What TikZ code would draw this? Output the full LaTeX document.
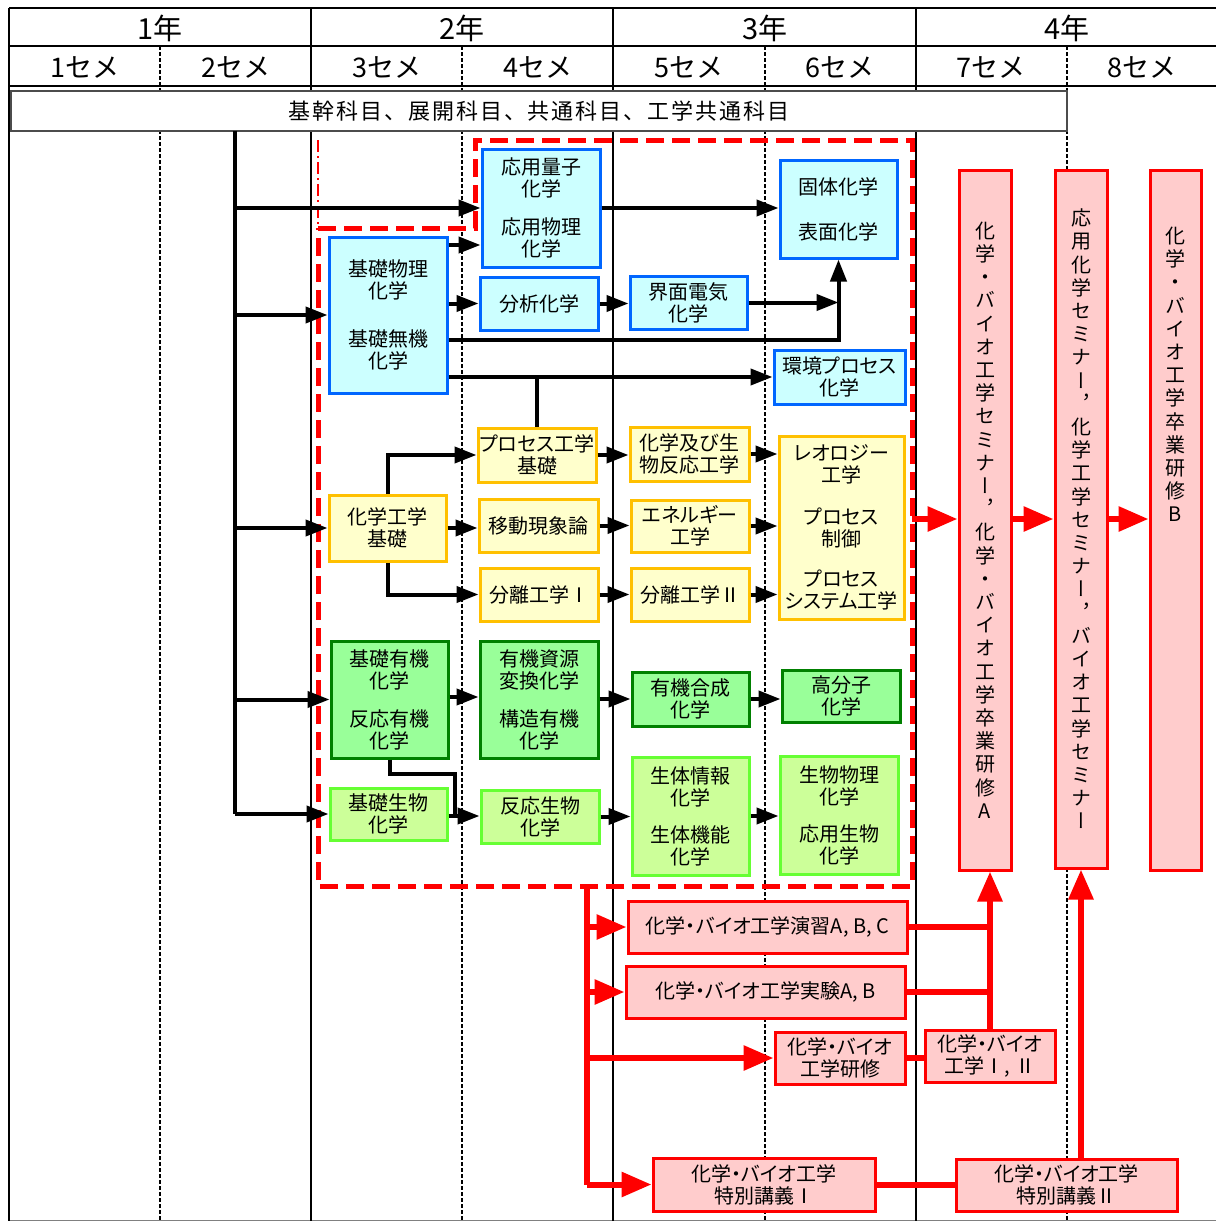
\documentclass[tikz,border=0pt]{standalone}
\usepackage{fontspec}
\setmainfont{Noto Sans CJK JP}[RawFeature=+palt]
\newfontfamily\vfont{Noto Sans CJK JP}[RawFeature=+vert]
\newfontfamily\widefont{Noto Sans CJK JP}[LetterSpace=9]
\newfontfamily\headfont{Noto Sans CJK JP}
\usetikzlibrary{arrows.meta}
\usetikzlibrary{positioning}

\definecolor{blueline}{HTML}{0066FF}
\definecolor{bluefill}{HTML}{CCFFFF}
\definecolor{yellowline}{HTML}{FFC000}
\definecolor{yellowfill}{HTML}{FFFFCC}
\definecolor{greenline}{HTML}{008000}
\definecolor{greenfill}{HTML}{99FF99}
\definecolor{lgreenline}{HTML}{66FF33}
\definecolor{lgreenfill}{HTML}{CCFF99}
\definecolor{pinkfill}{HTML}{FFCCCC}

\tikzset{
  box/.style={draw, line width=1.5pt, align=center, inner sep=0pt, font=\fontsize{10}{11}\selectfont},
  bluebox/.style={box, draw=blueline, fill=bluefill},
  yellowbox/.style={box, draw=yellowline, fill=yellowfill},
  greenbox/.style={box, draw=greenline, fill=greenfill},
  lgreenbox/.style={box, draw=lgreenline, fill=lgreenfill},
  pinkbox/.style={box, draw=red, fill=pinkfill},
  vbox/.style={pinkbox, font=\vfont\fontsize{10}{11.6}\selectfont},
  yearlabel/.style={font=\headfont\fontsize{14.5}{16}\selectfont},
  semlabel/.style={font=\headfont\fontsize{13.5}{15}\selectfont},
  arr/.style={line width=2pt, -{Triangle[length=11pt,width=8pt]}},
  link/.style={line width=2pt},
  redarr/.style={draw=red, line width=3pt, -{Triangle[length=15pt,width=12pt]}},
  redlink/.style={draw=red, line width=3pt},
}

\begin{document}
\begin{tikzpicture}[x=0.5pt,y=-0.5pt]
\useasboundingbox (0,0) rectangle (1216,1221);

% grid
\draw[line width=1pt] (9,8) -- (1216,8);
\draw[line width=1.2pt] (9,46) -- (1216,46);
\draw[line width=1.2pt] (9,86) -- (1216,86);
\draw[gray, line width=0.5pt] (9,1220) -- (1216,1220);
\draw[line width=1pt] (9,8) -- (9,1221);
\draw[line width=1pt] (311,8) -- (311,1221);
\draw[line width=1pt] (613,8) -- (613,1221);
\draw[line width=1pt] (916,8) -- (916,1221);
\draw[line width=0.6pt, dash pattern=on 2pt off 1pt] (160,46) -- (160,1221);
\draw[line width=0.6pt, dash pattern=on 2pt off 1pt] (462,46) -- (462,1221);
\draw[line width=0.6pt, dash pattern=on 2pt off 1pt] (765,46) -- (765,1221);
\draw[line width=0.6pt, dash pattern=on 2pt off 1pt] (1067,46) -- (1067,1221);

\path (160,28) node[yearlabel] (y1) {1年};
\path (462,28) node[yearlabel] (y2) {2年};
\path (765,28) node[yearlabel] (y3) {3年};
\path (1067,28) node[yearlabel] (y4) {4年};
\path (85,67) node[semlabel] (s1) {1セメ};
\path (236,67) node[semlabel] (s2) {2セメ};
\path (387,67) node[semlabel] (s3) {3セメ};
\path (538,67) node[semlabel] (s4) {4セメ};
\path (689,67) node[semlabel] (s5) {5セメ};
\path (840,67) node[semlabel] (s6) {6セメ};
\path (991,67) node[semlabel] (s7) {7セメ};
\path (1142,67) node[semlabel] (s8) {8セメ};

\path (539,111) node[draw=black!70, line width=0.6pt, fill=white, minimum width=528pt, minimum height=20pt, inner sep=0pt,
  font=\widefont\fontsize{11}{13}\selectfont] (kikan) {基幹科目、展開科目、共通科目、工学共通科目};

% red dashed region
\draw[red, line width=0.6pt, dash pattern=on 6pt off 2pt on 1pt off 2pt] (318,140) -- (318,228);
\draw[red, line width=2.5pt, dash pattern=on 9pt off 4pt] (318,228) -- (475,228) -- (475,140) -- (912,140) -- (912,886) -- (318,886) -- cycle;
\coordinate (regionE) at (912,519);
\coordinate (rtop) at (587,886);
\coordinate (trunk) at (235,131);

% blue
\path (541,208) node[bluebox, minimum width=59pt, minimum height=59pt] (oyoryoshi) {応用量子\\化学\\[8pt]応用物理\\化学};
\path (838.5,209) node[bluebox, minimum width=58.5pt, minimum height=49pt] (kotai) {固体化学\\[11.5pt]表面化学};
\path (388,315) node[bluebox, minimum width=59pt, minimum height=78pt] (kisobutsuri) {基礎物理\\化学\\[13pt]基礎無機\\化学};
\path (539,303.5) node[bluebox, minimum width=59pt, minimum height=26.5pt] (bunseki) {分析化学};
\path (688.5,302.5) node[bluebox, minimum width=58.5pt, minimum height=26.5pt] (kaimen) {界面電気\\化学};
\path (839.5,377) node[bluebox, minimum width=65.5pt, minimum height=27pt] (kankyo) {環境プロセス\\化学};

% yellow
\path (537,455) node[yellowbox, minimum width=59pt, minimum height=27pt] (procbase) {プロセス工学\\基礎};
\path (689.5,454) node[yellowbox, minimum width=59.5pt, minimum height=27pt] (hanno) {化学及び生\\物反応工学};
\path (841.5,527.5) node[yellowbox, minimum width=62.5pt, minimum height=91.5pt] (rheo) {レオロジー\\工学\\[10pt]プロセス\\制御\\[9pt]プロセス\\システム工学};
\path (387.5,528) node[yellowbox, minimum width=58.5pt, minimum height=33pt] (kagakukogaku) {化学工学\\基礎};
\path (538.5,525.5) node[yellowbox, minimum width=59.5pt, minimum height=26.5pt] (ido) {移動現象論};
\path (690,526) node[yellowbox, minimum width=59pt, minimum height=26pt] (energy) {エネルギー\\工学};
\path (539,594.5) node[yellowbox, minimum width=59pt, minimum height=26.5pt] (bunri1) {分離工学Ⅰ};
\path (690,594.5) node[yellowbox, minimum width=59pt, minimum height=26.5pt] (bunri2) {分離工学Ⅱ};

% green
\path (389.5,699.5) node[greenbox, minimum width=58.5pt, minimum height=58.5pt] (kisoyuki) {基礎有機\\化学\\[8pt]反応有機\\化学};
\path (539,699.5) node[greenbox, minimum width=59pt, minimum height=58.5pt] (yukishigen) {有機資源\\変換化学\\[8pt]構造有機\\化学};
\path (690.5,699) node[greenbox, minimum width=58.5pt, minimum height=27pt] (yukigosei) {有機合成\\化学};
\path (841,696) node[greenbox, minimum width=59pt, minimum height=26pt] (kobunshi) {高分子\\化学};
\path (388.5,814) node[lgreenbox, minimum width=58.5pt, minimum height=26pt] (kisoseibutsu) {基礎生物\\化学};
\path (540,816.5) node[lgreenbox, minimum width=59pt, minimum height=26.5pt] (hannoseibutsu) {反応生物\\化学};
\path (690.5,816) node[lgreenbox, minimum width=58.5pt, minimum height=59pt] (seitai) {生体情報\\化学\\[7.5pt]生体機能\\化学};
\path (839,815) node[lgreenbox, minimum width=59pt, minimum height=59pt] (seibutsubutsuri) {生物物理\\化学\\[7.5pt]応用生物\\化学};

% pink, 4th year
\path (985,520) node[vbox, minimum width=26pt, minimum height=350pt] (semiA) {化\\学\\・\\バ\\イ\\オ\\工\\学\\セ\\ミ\\ナ\\ー\\，\\化\\学\\・\\バ\\イ\\オ\\工\\学\\卒\\業\\研\\修\\A};
\path (1081,519) node[vbox, minimum width=26pt, minimum height=349pt] (semi2) {応\\用\\化\\学\\セ\\ミ\\ナ\\ー\\，\\化\\学\\工\\学\\セ\\ミ\\ナ\\ー\\，\\バ\\イ\\オ\\工\\学\\セ\\ミ\\ナ\\ー};
\path (1175.5,520) node[vbox, minimum width=25.5pt, minimum height=350pt] (sotsuB) {化\\学\\・\\バ\\イ\\オ\\工\\学\\卒\\業\\研\\修\\B\\[134pt]\mbox{}};

% pink, practice
\path (767.5,927) node[pinkbox, minimum width=139.5pt, minimum height=26pt] (ensyu) {化学・バイオ工学演習A, B, C};
\path (765.5,992) node[pinkbox, minimum width=139.5pt, minimum height=26pt] (jikken) {化学・バイオ工学実験A, B};
\path (840,1058) node[pinkbox, minimum width=65pt, minimum height=26pt] (kensyu) {化学・バイオ\\工学研修};
\path (990,1056) node[pinkbox, minimum width=65pt, minimum height=26pt] (bio12) {化学・バイオ\\工学Ⅰ, Ⅱ};
\path (764,1184.5) node[pinkbox, minimum width=111pt, minimum height=26.5pt] (tokubetsu1) {化学・バイオ工学\\特別講義Ⅰ};
\path (1066.5,1185) node[pinkbox, minimum width=110.5pt, minimum height=26pt] (tokubetsu2) {化学・バイオ工学\\特別講義Ⅱ};

% black arrows
\draw[link] (trunk) -- (trunk |- kisoseibutsu.west);
\draw[arr] (trunk |- oyoryoshi.west) -- (oyoryoshi.west);
\draw[arr] (trunk |- kisobutsuri.west) -- (kisobutsuri.west);
\draw[arr] (trunk |- kagakukogaku.west) -- (kagakukogaku.west);
\draw[arr] (trunk |- kisoyuki.west) -- (kisoyuki.west);
\draw[arr] (trunk |- kisoseibutsu.west) -- (kisoseibutsu.west);

\draw[arr] (oyoryoshi.east) -- (kotai.west |- oyoryoshi.east);
\draw[arr] (kisobutsuri.east |- 0,245) -- (oyoryoshi.west |- 0,245);
\draw[arr] (kisobutsuri.east |- bunseki.west) -- (bunseki.west);
\draw[arr] (bunseki.east) -- (kaimen.west |- bunseki.east);
\draw[arr] (kaimen.east) -- (kotai.south |- kaimen.east);
\draw[arr] (kisobutsuri.east |- 0,340) -| (kotai.south);
\draw[arr] (kisobutsuri.east |- kankyo.west) -- (kankyo.west);
\draw[link] (procbase.north |- kankyo.west) -- (procbase.north);

\draw[arr] (kagakukogaku.north) |- (procbase.west);
\draw[arr] (kagakukogaku.east) -- (ido.west |- kagakukogaku.east);
\draw[arr] (kagakukogaku.south) |- (bunri1.west);
\draw[arr] (procbase.east) -- (hanno.west |- procbase.east);
\draw[arr] (ido.east) -- (energy.west |- ido.east);
\draw[arr] (bunri1.east) -- (bunri2.west);
\draw[arr] (hanno.east) -- (rheo.west |- hanno.east);
\draw[arr] (energy.east) -- (rheo.west |- energy.east);
\draw[arr] (bunri2.east) -- (rheo.west |- bunri2.east);

\draw[arr] (kisoyuki.east |- 0,697) -- (yukishigen.west |- 0,697);
\draw[arr] (yukishigen.east |- yukigosei.west) -- (yukigosei.west);
\draw[arr] (yukigosei.east) -- (kobunshi.west |- yukigosei.east);
\draw[link] (kisoyuki.south) |- (455,774) -- (455,816);
\draw[arr] (kisoseibutsu.east |- 0,816) -- (hannoseibutsu.west |- 0,816);
\draw[arr] (hannoseibutsu.east) -- (seitai.west |- hannoseibutsu.east);
\draw[arr] (seitai.east) -- (seibutsubutsuri.west |- seitai.east);

% red arrows
\draw[redarr] (regionE) -- (semiA.west |- regionE);
\draw[redarr] (semiA.east |- regionE) -- (semi2.west |- regionE);
\draw[redarr] (semi2.east |- regionE) -- (sotsuB.west |- regionE);
\draw[redlink] (rtop) -- (rtop |- tokubetsu1.west);
\draw[redarr] (rtop |- ensyu.west) -- (ensyu.west);
\draw[redarr] (rtop |- jikken.west) -- (jikken.west);
\draw[redarr] (rtop |- kensyu.west) -- (kensyu.west);
\draw[redarr] (rtop |- tokubetsu1.west) -- (tokubetsu1.west);
\draw[redlink] (ensyu.east) -- (bio12.north |- ensyu.east);
\draw[redlink] (jikken.east) -- (bio12.north |- jikken.east);
\draw[redarr] (bio12.north) -- (bio12.north |- semiA.south);
\draw[redlink] (kensyu.east) -- (bio12.west |- kensyu.east);
\draw[redlink] (tokubetsu1.east) -- (tokubetsu2.west |- tokubetsu1.east);
\draw[redarr] (semi2.south |- tokubetsu2.north) -- (semi2.south);
\end{tikzpicture}
\end{document}
